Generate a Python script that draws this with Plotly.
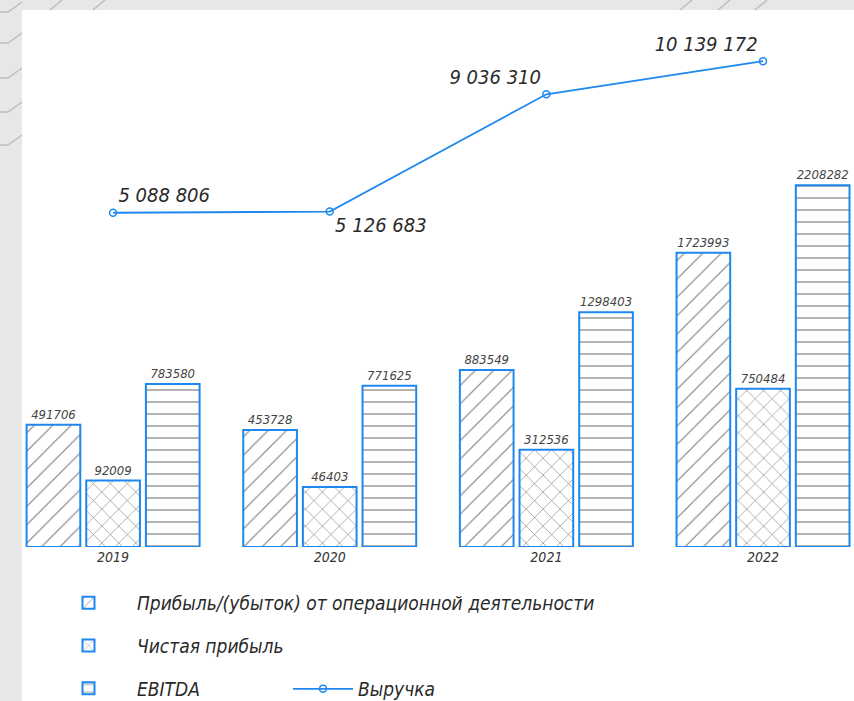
import plotly.graph_objects as go

# ---- data ----
years = ["2019", "2020", "2021", "2022"]
op_profit = [491706, 453728, 883549, 1723993]
net_profit = [92009, 46403, 312536, 750484]
ebitda = [783580, 771625, 1298403, 2208282]
revenue = [5088806, 5126683, 9036310, 10139172]
rev_label_pos = ["top right", "bottom right", "top left", "top left"]

series_names = [
    "Прибыль/(убыток) от операционной деятельности",
    "Чистая прибыль",
    "EBITDA",
]
revenue_name = "Выручка"

# ---- style ----
W, H = 854, 701
PLOT_BOTTOM = 547          # pixel of plot-area bottom (bar baseline)
FONT = "Liberation Sans Narrow, DejaVu Sans Condensed, Roboto Condensed, Roboto, sans-serif"
BLUE = "#1e88f0"
INK = "#2a2a2a"
BASE = -384000             # bar base (drawn chart uses an offset baseline)
patterns = [("/", 13, 0.09), ("x", 12, 0.1), ("-", 12, 0.1)]


def px_x(p):
    return p / W


def px_y(p):
    return (PLOT_BOTTOM - p) / PLOT_BOTTOM


fig = go.Figure()

for name, vals, (shape, size, sol) in zip(series_names, [op_profit, net_profit, ebitda], patterns):
    fig.add_trace(go.Bar(
        x=years, y=[v - BASE for v in vals], base=BASE, name=name,
        legendgroup=name,
        text=[str(v) for v in vals], textposition="outside",
        textfont=dict(family=FONT, size=13, color="#444", style="italic"),
        cliponaxis=False,
        marker=dict(color="white",
                    line=dict(color=BLUE, width=2),
                    pattern=dict(shape=shape, size=size, solidity=sol,
                                 fgcolor="#000", bgcolor="white")),
        hoverinfo="skip",
    ))

fig.add_trace(go.Scatter(
    x=years, y=revenue, name=revenue_name, yaxis="y2", legend="legend2",
    mode="lines+markers+text",
    line=dict(color=BLUE, width=1.8),
    marker=dict(symbol="circle-open", size=7, color=BLUE, line=dict(width=1.5)),
    text=[f"{v:,}".replace(",", " ") for v in revenue],
    textposition=rev_label_pos,
    textfont=dict(family=FONT, size=20, color=INK, style="italic"),
    cliponaxis=False,
    hoverinfo="skip",
))

# decorative grey border of the page
shapes = [
    dict(type="rect", xref="paper", yref="paper", x0=0, x1=px_x(22), y0=px_y(H), y1=px_y(0),
         fillcolor="#e7e7e7", line=dict(width=0), layer="below"),
    dict(type="rect", xref="paper", yref="paper", x0=0, x1=1, y0=px_y(10), y1=px_y(0),
         fillcolor="#e7e7e7", line=dict(width=0), layer="below"),
]
for yy in [12, 43, 78, 112, 145]:
    shapes.append(dict(type="path", xref="paper", yref="paper",
                       path=f"M0,{px_y(yy)} L{px_x(8)},{px_y(yy)} L{px_x(22)},{px_y(yy - 10)}",
                       line=dict(color="#bdbdbd", width=1.5), layer="below"))
for xx in [50, 93, 650 + 30, 650 + 68, 650 + 105]:
    shapes.append(dict(type="line", xref="paper", yref="paper",
                       x0=px_x(xx), y0=px_y(10), x1=px_x(xx + 12), y1=px_y(0),
                       line=dict(color="#bdbdbd", width=1.5), layer="below"))

fig.update_layout(
    width=W, height=H,
    margin=dict(l=0, r=0, t=0, b=H - PLOT_BOTTOM, autoexpand=False),
    paper_bgcolor="white", plot_bgcolor="rgba(0,0,0,0)",
    barmode="group", bargap=0.174, bargroupgap=0.1,
    font=dict(family=FONT, color=INK, style="italic"),
    xaxis=dict(type="category", range=[-0.522, 3.42], showgrid=False, zeroline=False,
               showline=False, ticks="", tickfont=dict(size=14, color="#333", style="italic")),
    yaxis=dict(range=[BASE, BASE + PLOT_BOTTOM / 139.57e-6], visible=False, fixedrange=True),
    yaxis2=dict(range=[-6.053e6, 12.18e6], overlaying="y", visible=False),
    showlegend=True,
    legend=dict(x=px_x(40), y=px_y(584), xanchor="left", yanchor="top",
                font=dict(size=19, family=FONT, color=INK, style="italic"),
                tracegroupgap=15, itemwidth=87, bgcolor="rgba(0,0,0,0)"),
    legend2=dict(x=px_x(288), y=px_y(670), xanchor="left", yanchor="top",
                 font=dict(size=19, family=FONT, color=INK, style="italic"),
                 itemwidth=60, bgcolor="rgba(0,0,0,0)"),
    shapes=shapes,
)

fig.write_html("out.html", config={"displayModeBar": False},
               post_script="document.body.style.margin='0';document.body.style.padding='0';")
